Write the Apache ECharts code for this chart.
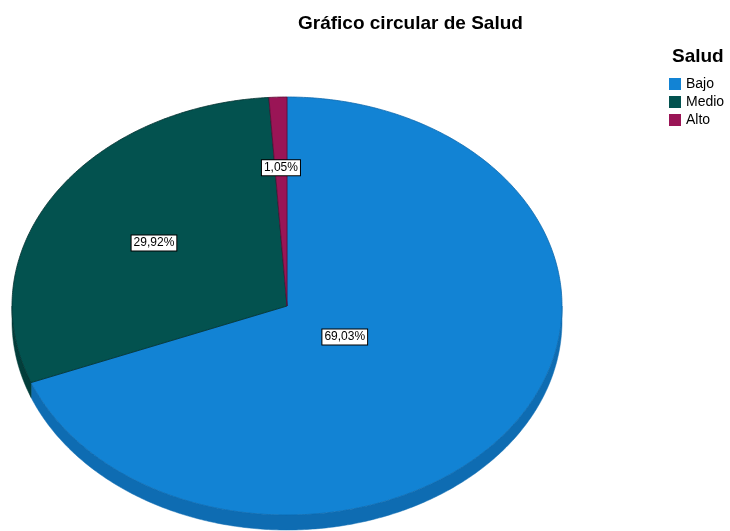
<!DOCTYPE html>
<html>
<head>
<meta charset="utf-8">
<script src="https://cdn.jsdelivr.net/npm/echarts@6/dist/echarts.min.js"></script>
<style>
  html, body { margin: 0; background: #fff; }
  #main { width: 730px; height: 531px; }
</style>
</head>
<body>
<div id="main"></div>
<script>
// datos del gráfico
const categories = ['Bajo', 'Medio', 'Alto'];
const percents = [69.03, 29.92, 1.05];
const colors = ['#1283d4', '#03524f', '#9a1556'];
const sideColors = ['#0e6cb2', '#023e3b', '#741043'];
const edgeColors = ['#0d68ad', '#01302e', '#5c0c35'];

// elipse del pastel (3D)
const CX = 287, CY = 306, RX = 275, RY = 209, DEPTH = 15;
const FONT = '"Liberation Sans", Arial, sans-serif';

function sliceAngles(i) {
  const total = percents.reduce((a, b) => a + b, 0);
  let before = 0;
  for (let k = 0; k < i; k++) before += percents[k];
  return [before / total * 2 * Math.PI, (before + percents[i]) / total * 2 * Math.PI];
}

function arc(a0, a1, dy) {
  const pts = [];
  const n = Math.max(2, Math.ceil((a1 - a0) / 0.01));
  for (let k = 0; k <= n; k++) {
    const a = a0 + (a1 - a0) * k / n;
    pts.push([CX + RX * Math.sin(a), CY - RY * Math.cos(a) + dy]);
  }
  return pts;
}

function fmt(v) {
  return v.toFixed(2).replace('.', ',') + '%';
}

// cara lateral
function renderSide(params, api) {
  const i = params.dataIndex;
  const [a0, a1] = sliceAngles(i);
  const s = Math.max(a0, Math.PI / 2), e = Math.min(a1, 3 * Math.PI / 2);
  if (s >= e) return null;
  const pts = arc(s, e, 0).concat(arc(s, e, DEPTH).reverse());
  return {
    type: 'polygon',
    shape: { points: pts },
    style: { fill: sideColors[i], stroke: sideColors[i], lineWidth: 0.5 }
  };
}

// cara superior + etiqueta
function makeTop(i) {
  return function (params, api) {
    const [a0, a1] = sliceAngles(i);
    const pts = [[CX, CY]].concat(arc(a0, a1, 0));
    const half = (a1 - a0) / 2, mid = a0 + half;
    const f = 2 / 3 * Math.sin(half) / half;
    const lx = CX + RX * f * Math.sin(mid), ly = CY - RY * f * Math.cos(mid);
    return {
      type: 'group',
      children: [
        {
          type: 'polygon',
          shape: { points: pts },
          style: { fill: colors[i], stroke: edgeColors[i], lineWidth: 0.8 }
        },
        {
          type: 'text',
          x: lx, y: ly + 1, z2: 10,
          style: {
            text: fmt(percents[i]),
            font: '12px ' + FONT,
            fill: '#000',
            align: 'center',
            verticalAlign: 'middle',
            backgroundColor: '#fff',
            borderColor: '#000',
            borderWidth: 1,
            padding: [2, 2, 1, 2]
          }
        }
      ]
    };
  };
}

const series = [{
  type: 'custom',
  coordinateSystem: 'none',
  z: 1,
  silent: true,
  data: percents,
  renderItem: renderSide
}];
categories.forEach((name, i) => {
  series.push({
    type: 'custom',
    name: name,
    coordinateSystem: 'none',
    z: 2,
    itemStyle: { color: colors[i] },
    data: [percents[i]],
    renderItem: makeTop(i)
  });
});

const chart = echarts.init(document.getElementById('main'));
chart.setOption({
  animation: false,
  backgroundColor: '#fff',
  title: [
    {
      text: 'Gráfico circular de Salud',
      left: 293, top: 9,
      textStyle: { fontFamily: FONT, fontSize: 19, fontWeight: 'bold', color: '#000' }
    },
    {
      text: 'Salud',
      left: 667, top: 42,
      textStyle: { fontFamily: FONT, fontSize: 19, fontWeight: 'bold', color: '#000' }
    }
  ],
  legend: {
    data: categories,
    orient: 'vertical',
    left: 664, top: 72,
    icon: 'rect',
    itemWidth: 12, itemHeight: 12, itemGap: 4,
    textStyle: { fontFamily: FONT, fontSize: 14, color: '#000', padding: [0, 0, 0, 0], lineHeight: 14 }
  },
  series: series
});
</script>
</body>
</html>
